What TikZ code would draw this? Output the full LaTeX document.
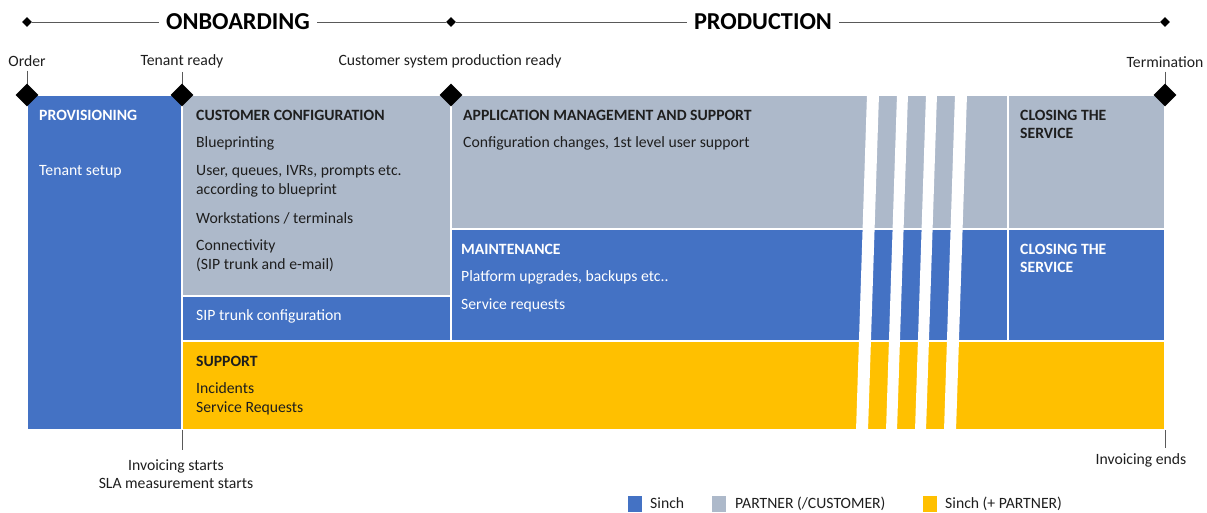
\documentclass[tikz,border=0pt]{standalone}
\usepackage{fontspec}
\setmainfont{Carlito}
\usetikzlibrary{shapes.geometric}
\definecolor{sblue}{HTML}{4472C4}
\definecolor{pgrey}{HTML}{ADB9CA}
\definecolor{syellow}{HTML}{FFC000}
\definecolor{ink}{HTML}{1E1E1E}
\definecolor{rule}{HTML}{595959}
\begin{document}
\begin{tikzpicture}[x=1pt,y=-1pt,
  blk/.style={draw=white,line width=1.2pt},
  txt/.style={anchor=west,inner sep=0pt,yshift=-1.5pt,font=\fontsize{15.7}{19}\selectfont,text=ink},
  wtxt/.style={txt,text=white},
  hd/.style={txt,font=\fontsize{15.7}{18.5}\selectfont\bfseries},
  whd/.style={hd,text=white},
  lbl/.style={inner sep=0pt,font=\fontsize{15.7}{18}\selectfont,text=ink},
  phase/.style={inner sep=7pt,font=\fontsize{24.3}{28}\selectfont\bfseries,text=black},
  bigms/.style={diamond,fill=black,minimum size=23pt,inner sep=0pt},
  smallms/.style={diamond,fill=black,minimum size=10pt,inner sep=0pt},
  tick/.style={draw=rule,line width=0.9pt},
  gap/.style={fill=white},
  key/.style={minimum width=14pt,minimum height=16pt,inner sep=0pt,anchor=north west}
]
\useasboundingbox (0,0) rectangle (1207,512);

% phase timeline
\node[smallms] (t0) at (27,22) {};
\node[smallms] (t1) at (451,22) {};
\node[smallms] (t2) at (1165,22) {};
\node[phase] (onb) at (238,22) {ONBOARDING};
\node[phase] (prod) at (763,22) {PRODUCTION};
\draw[tick] (t0) -- (onb.west);
\draw[tick] (onb.east) -- (t1);
\draw[tick] (t1) -- (prod.west);
\draw[tick] (prod.east) -- (t2);

% service blocks
\fill[sblue,blk] (27,95) rectangle (182,430);
\fill[pgrey,blk] (182,95) rectangle (451,296);
\fill[sblue,blk] (182,296) rectangle (451,341);
\fill[syellow,blk] (182,341) rectangle (1165,430);
\fill[pgrey,blk] (451,95) rectangle (1008,229);
\fill[sblue,blk] (451,229) rectangle (1008,341);
\fill[pgrey,blk] (1008,95) rectangle (1165,229);
\fill[sblue,blk] (1008,229) rectangle (1165,341);
\draw[white,line width=2.5pt] (1008,229) -- (1008,341);

% slanted breaks in the production period
\fill[gap] (867,94) -- (879,94) -- (868,431) -- (856,431) -- cycle;
\fill[gap] (897,94) -- (908,94) -- (897,431) -- (886,431) -- cycle;
\fill[gap] (926,94) -- (937,94) -- (926,431) -- (915,431) -- cycle;
\fill[gap] (955,94) -- (967,94) -- (956,431) -- (944,431) -- cycle;

% milestones
\node[lbl] (order) at (27,61) {Order};
\node[lbl] (tready) at (182,61) {Tenant ready};
\node[lbl] (cready) at (450,61) {Customer system production ready};
\node[lbl] (term) at (1165,62) {Termination};
\draw[tick,shorten <=4pt] (order.south) -- (27,95);
\draw[tick,shorten <=4pt] (tready.south) -- (182,95);
\draw[tick,shorten <=4pt] (term.south) -- (1165,95);
\node[bigms] (m0) at (27,95) {};
\node[bigms] (m1) at (182,95) {};
\node[bigms] (m2) at (451,95) {};
\node[bigms] (m3) at (1165,95) {};

% block texts
\node[whd] (prov) at (39,114) {PROVISIONING};
\node[wtxt] (tenant) at (39,170) {Tenant setup};

\node[hd] (cc) at (196,114) {CUSTOMER CONFIGURATION};
\node[txt] (cc1) at (196,142) {Blueprinting};
\node[txt,align=left] (cc2) at (196,179.5) {User, queues, IVRs, prompts etc.\\according to blueprint};
\node[txt] (cc3) at (196,217) {Workstations / terminals};
\node[txt,align=left] (cc4) at (196,254.5) {Connectivity\\(SIP trunk and e-mail)};
\node[wtxt] (sip) at (196,315) {SIP trunk configuration};

\node[hd] (sup) at (196,360) {SUPPORT};
\node[txt,align=left] (sup1) at (196,397.5) {Incidents\\Service Requests};

\node[hd] (app) at (463,114) {APPLICATION MANAGEMENT AND SUPPORT};
\node[txt] (app1) at (463,142) {Configuration changes, 1st level user support};

\node[whd] (mnt) at (461,248) {MAINTENANCE};
\node[wtxt] (mnt1) at (461,276) {Platform upgrades, backups etc..};
\node[wtxt] (mnt2) at (461,304) {Service requests};

\node[hd,align=left] (cl1) at (1020,123) {CLOSING THE\\SERVICE};
\node[whd,align=left] (cl2) at (1020,257) {CLOSING THE\\SERVICE};

% billing milestones
\coordinate (bs) at (182,430);
\coordinate (bse) at (182,450);
\coordinate (be) at (1165,430);
\coordinate (bee) at (1165,448);
\node[lbl,align=center] (inv) at (176,474.5) {Invoicing starts\\SLA measurement starts};
\node[lbl] (invend) at (1141,460) {Invoicing ends};
\draw[tick] (bs) -- (bse);
\draw[tick] (be) -- (bee);

% legend
\node[key,fill=sblue] (k1) at (628,496) {};
\node[lbl,anchor=west] (k1t) at (650,503.5) {Sinch};
\node[key,fill=pgrey] (k2) at (712,496) {};
\node[lbl,anchor=west] (k2t) at (735,503.5) {PARTNER (/CUSTOMER)};
\node[key,fill=syellow] (k3) at (923,496) {};
\node[lbl,anchor=west] (k3t) at (945,503.5) {Sinch (+ PARTNER)};
\end{tikzpicture}
\end{document}
